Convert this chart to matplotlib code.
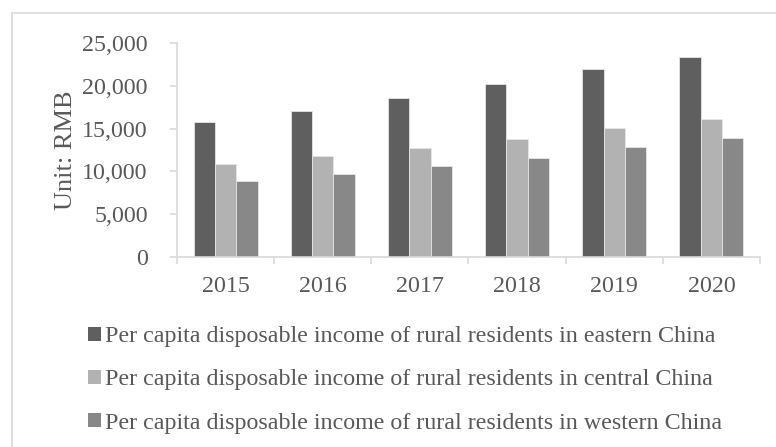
import matplotlib
matplotlib.use('Agg')
import matplotlib.pyplot as plt
import numpy as np
from matplotlib.patches import Rectangle, Patch

years = ['2015', '2016', '2017', '2018', '2019', '2020']
eastern = [15800, 17100, 18600, 20200, 22000, 23400]
central = [10900, 11800, 12700, 13800, 15100, 16100]
western = [8900, 9700, 10600, 11600, 12800, 13900]
labels = ['Per capita disposable income of rural residents in eastern China',
          'Per capita disposable income of rural residents in central China',
          'Per capita disposable income of rural residents in western China']
colors = ['#5f5f5f', '#b2b2b2', '#888888']

plt.rcParams['font.family'] = ['Liberation Serif', 'DejaVu Serif']
text_col = '#595959'
axis_col = '#d9d9d9'
fs = 17.3

fig = plt.figure(figsize=(7.76, 4.47), dpi=100)
fig.patches.append(Rectangle((12 / 776, -0.1), 1.1, 1 - 13 / 447 + 0.1,
                             transform=fig.transFigure, fill=False,
                             edgecolor=axis_col, linewidth=1.2))
ax = fig.add_axes([177 / 776, 1 - 257 / 447, 583 / 776, 214 / 447])

x = np.arange(len(years))
w = 0.22
for i, (vals, c) in enumerate(zip([eastern, central, western], colors)):
    ax.bar(x + (i - 1) * w, vals, width=w, color=c, edgecolor='#e6e6e6',
           linewidth=0.6, zorder=2)

ax.set_xlim(-0.5, 5.5)
ax.set_ylim(0, 25000)
ax.set_yticks(range(0, 25001, 5000))
ax.set_yticklabels([f'{v:,}' for v in range(0, 25001, 5000)])
ax.set_xticks(np.arange(-0.5, 6, 1))
ax.set_xticklabels([])
ax.set_xticks(x, minor=True)
ax.set_xticklabels(years, minor=True)
ax.tick_params(axis='x', which='major', length=5, color=axis_col, width=1.2)
ax.tick_params(axis='x', which='minor', length=0, pad=14)
ax.tick_params(axis='y', length=5, color=axis_col, width=1.2, pad=16)
ax.tick_params(which='both', labelsize=fs, labelcolor=text_col)

for s in ['top', 'right']:
    ax.spines[s].set_visible(False)
for s in ['left', 'bottom']:
    ax.spines[s].set_color(axis_col)
    ax.spines[s].set_linewidth(1.2)

ax.set_ylabel('Unit: RMB', fontsize=19, color=text_col)
ax.yaxis.set_label_coords(-0.171, 0.5)

handles = [Patch(facecolor=c) for c in colors]
fig.legend(handles, labels, loc='center left', bbox_to_anchor=(88 / 776, 1 - 380 / 447),
           frameon=False, fontsize=fs, handlelength=0.54, handleheight=0.54,
           handletextpad=0.17, labelspacing=0.92, labelcolor=text_col,
           borderpad=0, borderaxespad=0)

fig.savefig('out.png', dpi=100)
